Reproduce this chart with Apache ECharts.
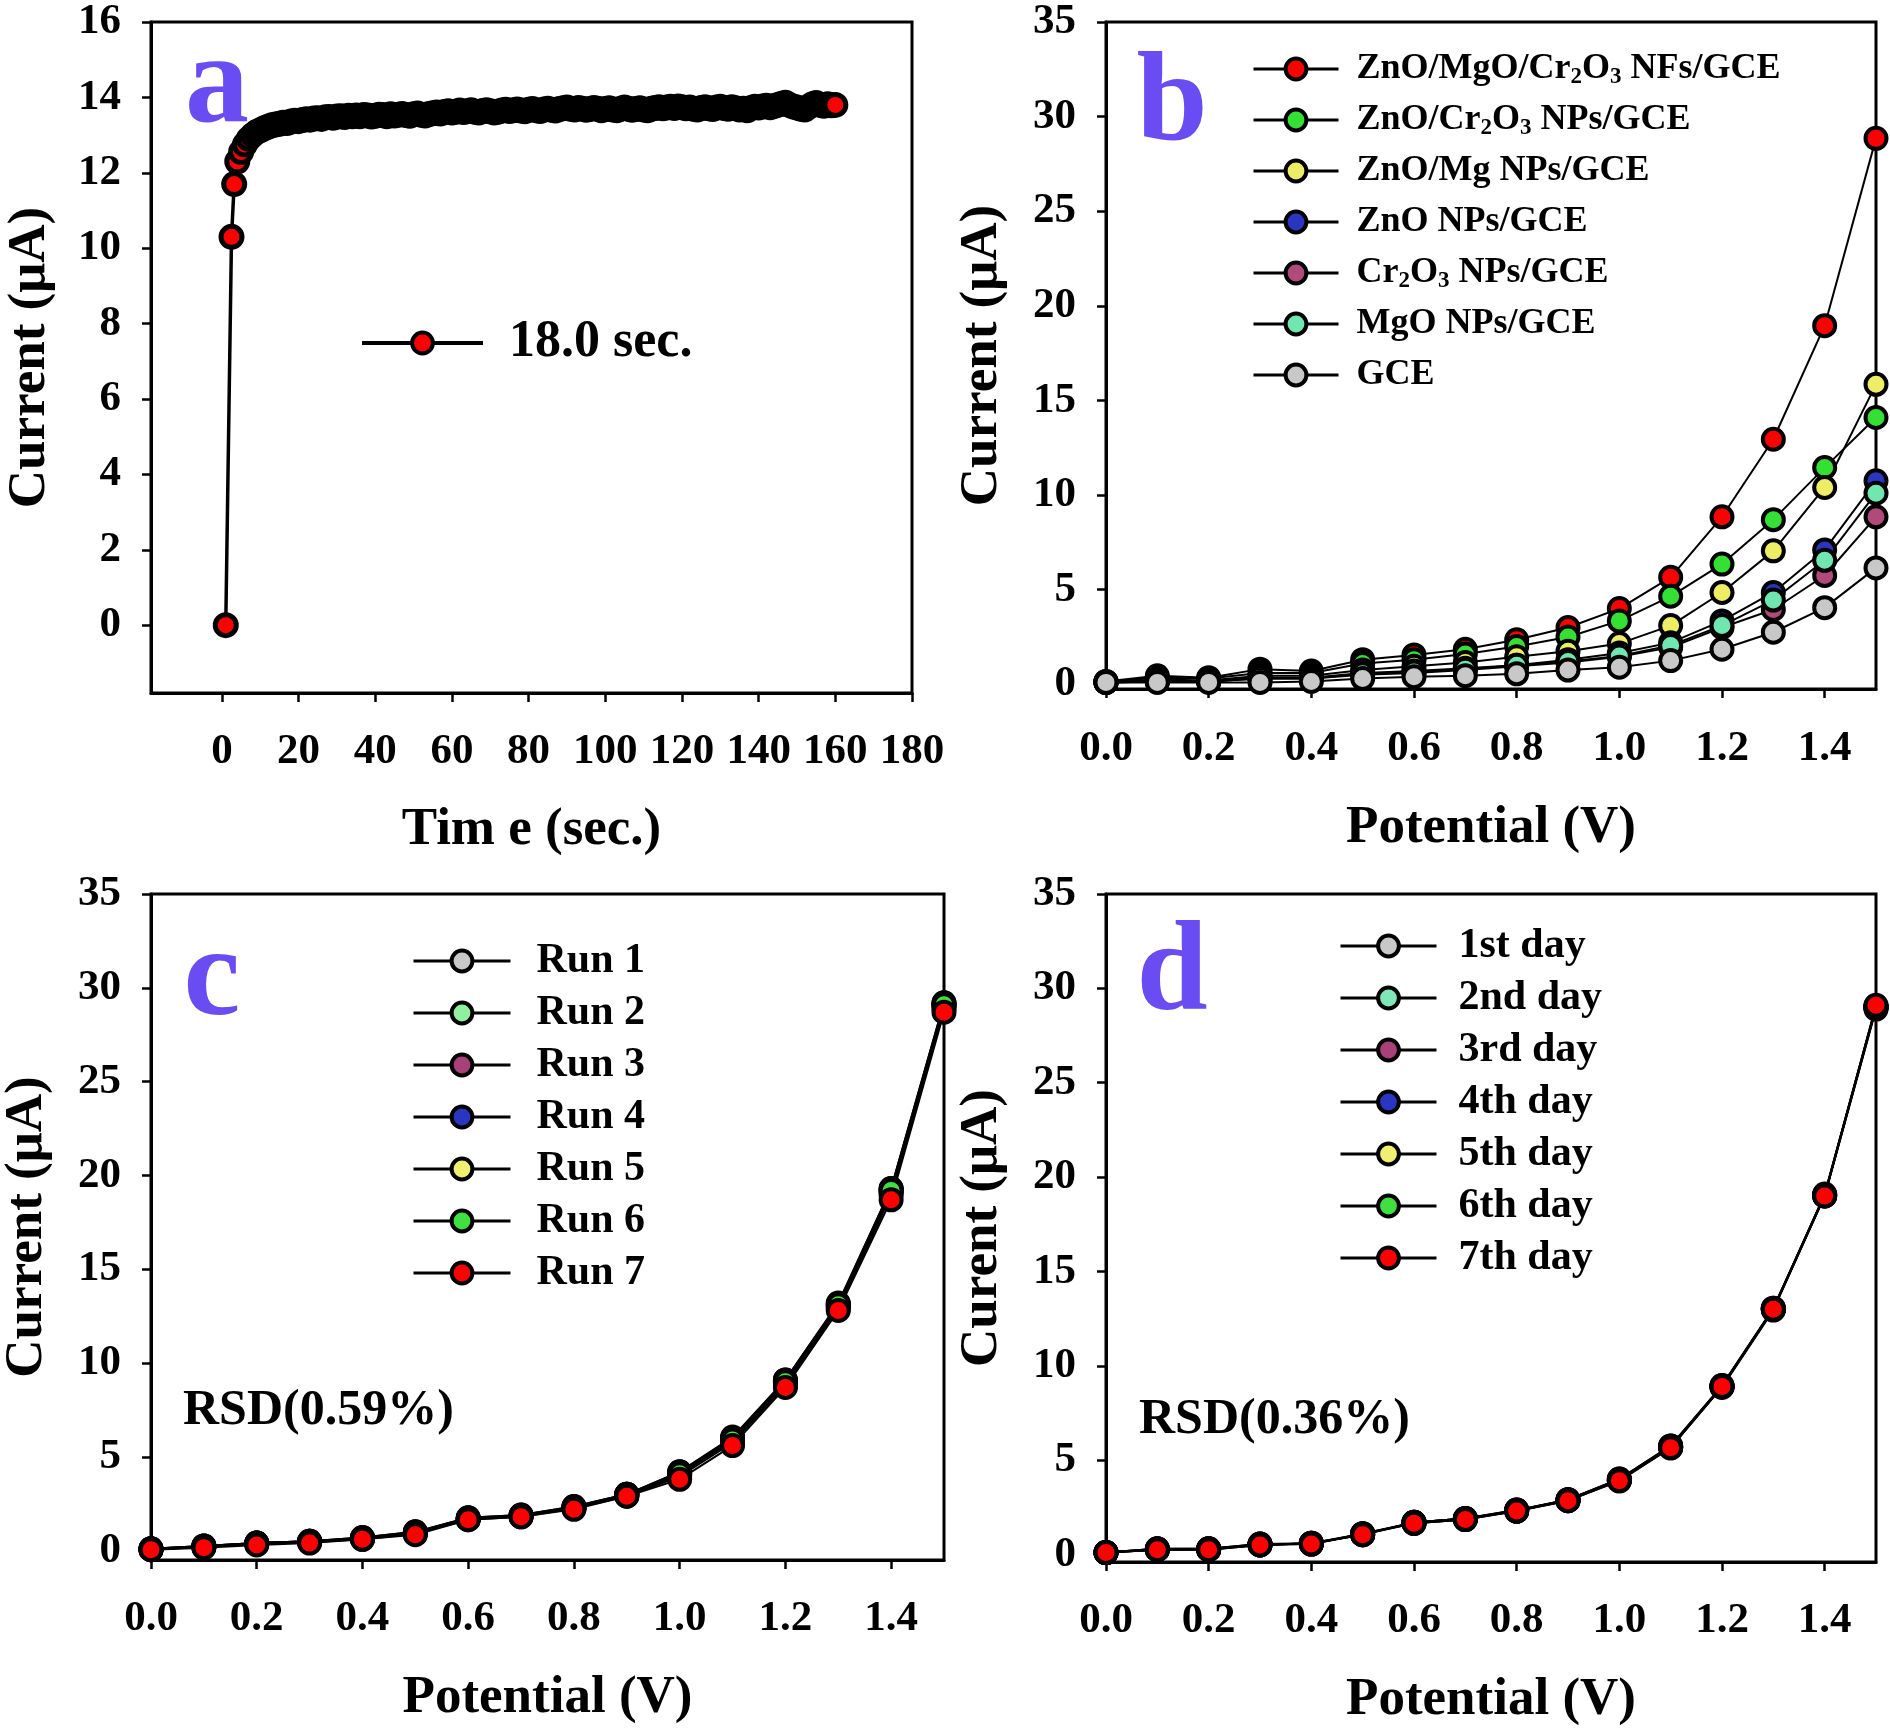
<!DOCTYPE html>
<html>
<head>
<meta charset="utf-8">
<script src="https://cdn.jsdelivr.net/npm/echarts@6/dist/echarts.min.js"></script>
<style>
html, body { margin: 0; padding: 0; background: #fff; }
#main { width: 1890px; height: 1728px; }
</style>
</head>
<body>
<div id="main"></div>
<script>
// panel a : current vs time (1 s sampling after the first three points)
var timeA = [1, 2.5, 3.2,
	4, 5, 6, 7, 8, 9, 10, 11, 12, 13, 14, 15, 16, 17, 18, 19, 20,
	21, 22, 23, 24, 25, 26, 27, 28, 29, 30, 31, 32, 33, 34, 35, 36, 37, 38, 39, 40,
	41, 42, 43, 44, 45, 46, 47, 48, 49, 50, 51, 52, 53, 54, 55, 56, 57, 58, 59, 60,
	61, 62, 63, 64, 65, 66, 67, 68, 69, 70, 71, 72, 73, 74, 75, 76, 77, 78, 79, 80,
	81, 82, 83, 84, 85, 86, 87, 88, 89, 90, 91, 92, 93, 94, 95, 96, 97, 98, 99, 100,
	101, 102, 103, 104, 105, 106, 107, 108, 109, 110, 111, 112, 113, 114, 115, 116, 117, 118, 119, 120,
	121, 122, 123, 124, 125, 126, 127, 128, 129, 130, 131, 132, 133, 134, 135, 136, 137, 138, 139, 140,
	141, 142, 143, 144, 145, 146, 147, 148, 149, 150, 151, 152, 153, 154, 155, 156, 157, 158, 159, 160];
var currentA = [0, 10.3, 11.7,
	12.3, 12.55, 12.75, 12.9, 13.0, 13.08, 13.13, 13.18, 13.22, 13.26, 13.28, 13.3, 13.33, 13.32, 13.36, 13.38, 13.37,
	13.4, 13.42, 13.41, 13.44, 13.45, 13.43, 13.47, 13.48, 13.46, 13.49, 13.5, 13.48, 13.51, 13.5, 13.52, 13.5, 13.53, 13.52, 13.49, 13.51,
	13.54, 13.53, 13.5, 13.55, 13.52, 13.54, 13.56, 13.53, 13.51, 13.55, 13.57, 13.54, 13.52, 13.56, 13.58, 13.6, 13.57, 13.61, 13.63, 13.6,
	13.62, 13.65, 13.61, 13.63, 13.66, 13.62, 13.6, 13.64, 13.66, 13.63, 13.6, 13.62, 13.65, 13.67, 13.64, 13.66, 13.68, 13.65, 13.63, 13.67,
	13.69, 13.66, 13.64, 13.68, 13.7, 13.67, 13.65, 13.69, 13.71, 13.73, 13.7, 13.68, 13.72, 13.7, 13.67, 13.69, 13.72, 13.7, 13.66, 13.69,
	13.71, 13.68, 13.66, 13.7, 13.73, 13.7, 13.67, 13.69, 13.71, 13.68, 13.66, 13.7, 13.72, 13.74, 13.71, 13.73, 13.75, 13.72, 13.76, 13.74,
	13.71, 13.73, 13.7, 13.68, 13.72, 13.74, 13.71, 13.69, 13.73, 13.75, 13.72, 13.7, 13.74, 13.71, 13.68, 13.7, 13.66, 13.72, 13.75, 13.73,
	13.76, 13.78, 13.74, 13.77, 13.8, 13.83, 13.86, 13.8, 13.76, 13.73, 13.7, 13.68, 13.75, 13.82, 13.85, 13.8, 13.78, 13.82, 13.79, 13.8];
var nameA = '18.0 sec.';

// panels b, c, d : current vs potential
var potential = [0, 0.1, 0.2, 0.3, 0.4, 0.5, 0.6, 0.7, 0.8, 0.9, 1.0, 1.1, 1.2, 1.3, 1.4, 1.5];

var namesB = ['ZnO/MgO/Cr2O3 NFs/GCE', 'ZnO/Cr2O3 NPs/GCE', 'ZnO/Mg NPs/GCE', 'ZnO NPs/GCE', 'Cr2O3 NPs/GCE', 'MgO NPs/GCE', 'GCE'];
var colorsB = ['#ff0000', '#33e033', '#eeee66', '#2a35c0', '#b04a7a', '#70e6b0', '#c8c8c8'];
var znoMgoCr = [0.15, 0.45, 0.35, 0.8, 0.7, 1.3, 1.55, 1.85, 2.35, 3.0, 4.0, 5.65, 8.85, 12.95, 18.95, 28.85];
var znoCr = [0.15, 0.35, 0.3, 0.6, 0.6, 1.1, 1.3, 1.6, 2.0, 2.5, 3.35, 4.65, 6.35, 8.7, 11.45, 14.1];
var znoMg = [0.1, 0.25, 0.2, 0.45, 0.45, 0.75, 0.95, 1.15, 1.45, 1.75, 2.15, 3.1, 4.85, 7.05, 10.4, 15.85];
var zno = [0.1, 0.2, 0.15, 0.35, 0.35, 0.6, 0.7, 0.85, 1.0, 1.3, 1.65, 2.2, 3.35, 4.85, 7.1, 10.75];
var cr2o3 = [0.1, 0.15, 0.15, 0.3, 0.3, 0.5, 0.6, 0.75, 0.95, 1.15, 1.45, 1.95, 3.0, 3.95, 5.75, 8.85];
var mgo = [0.1, 0.15, 0.15, 0.3, 0.3, 0.55, 0.65, 0.8, 1.0, 1.2, 1.5, 2.05, 3.1, 4.45, 6.55, 10.1];
var gce = [0.1, 0.1, 0.1, 0.1, 0.15, 0.3, 0.4, 0.45, 0.55, 0.75, 0.9, 1.25, 1.85, 2.75, 4.05, 6.15];
var valuesB = [znoMgoCr, znoCr, znoMg, zno, cr2o3, mgo, gce];

var namesC = ['Run 1', 'Run 2', 'Run 3', 'Run 4', 'Run 5', 'Run 6', 'Run 7'];
var colorsC = ['#c8c8c8', '#90f0a0', '#a8407a', '#2a35c0', '#f0f070', '#40e040', '#ff0000'];
var run1 = [0.1, 0.25, 0.4, 0.5, 0.7, 1.0, 1.75, 1.9, 2.35, 3.0, 4.2, 6.0, 9.1, 13.15, 19.3, 29.2];
var run2 = [0.1, 0.25, 0.4, 0.5, 0.65, 0.95, 1.7, 1.85, 2.3, 3.0, 4.1, 5.9, 9.0, 13.05, 19.2, 29.1];
var run3 = [0.05, 0.2, 0.35, 0.45, 0.65, 0.95, 1.7, 1.85, 2.3, 2.95, 4.05, 5.85, 8.95, 13.0, 19.1, 29.0];
var run4 = [0.1, 0.25, 0.4, 0.5, 0.7, 1.0, 1.75, 1.9, 2.35, 3.0, 4.2, 6.05, 9.1, 13.2, 19.3, 29.2];
var run5 = [0.05, 0.2, 0.35, 0.45, 0.6, 0.9, 1.65, 1.8, 2.25, 2.9, 3.95, 5.75, 8.8, 12.9, 18.95, 28.9];
var run6 = [0.1, 0.2, 0.4, 0.5, 0.65, 0.95, 1.7, 1.85, 2.3, 3.0, 4.1, 5.9, 9.0, 13.1, 19.2, 29.1];
var run7 = [0.05, 0.15, 0.3, 0.4, 0.6, 0.85, 1.65, 1.8, 2.2, 2.9, 3.8, 5.6, 8.7, 12.8, 18.7, 28.7];
var valuesC = [run1, run2, run3, run4, run5, run6, run7];

var namesD = ['1st day', '2nd day', '3rd day', '4th day', '5th day', '6th day', '7th day'];
var colorsD = ['#c8c8c8', '#80e8b8', '#a8407a', '#2a35c0', '#f0f070', '#40e040', '#ff0000'];
var day1 = [0.1, 0.3, 0.3, 0.55, 0.6, 1.1, 1.7, 1.9, 2.35, 2.9, 4.0, 5.75, 8.95, 13.05, 19.05, 29.0];
var day2 = [0.1, 0.25, 0.3, 0.5, 0.6, 1.05, 1.7, 1.9, 2.3, 2.9, 3.95, 5.7, 8.9, 13.0, 19.1, 29.05];
var day3 = [0.1, 0.3, 0.25, 0.55, 0.55, 1.1, 1.65, 1.85, 2.35, 2.85, 3.95, 5.7, 8.95, 13.05, 19.0, 28.95];
var day4 = [0.1, 0.25, 0.3, 0.5, 0.6, 1.05, 1.7, 1.9, 2.3, 2.9, 4.0, 5.75, 8.9, 13.0, 19.05, 29.0];
var day5 = [0.1, 0.3, 0.3, 0.55, 0.55, 1.1, 1.65, 1.85, 2.3, 2.85, 3.9, 5.7, 8.85, 12.95, 19.0, 28.9];
var day6 = [0.1, 0.25, 0.25, 0.5, 0.6, 1.05, 1.7, 1.9, 2.35, 2.9, 3.95, 5.65, 8.9, 13.0, 19.05, 29.05];
var day7 = [0.1, 0.25, 0.25, 0.5, 0.55, 1.05, 1.65, 1.85, 2.3, 2.85, 3.9, 5.65, 8.9, 13.0, 19.0, 29.1];
var valuesD = [day1, day2, day3, day4, day5, day6, day7];

// tick labels
var ticksTime = [0, 20, 40, 60, 80, 100, 120, 140, 160, 180];
var ticksCurrentA = [0, 2, 4, 6, 8, 10, 12, 14, 16];
var ticksPotential = [0, 0.2, 0.4, 0.6, 0.8, 1.0, 1.2, 1.4];
var ticksCurrent = [0, 5, 10, 15, 20, 25, 30, 35];

var serif = '"Liberation Serif", "Times New Roman", serif';
var letterColor = '#6a4df2';

function pairs(xs, ys) {
	var out = [];
	for (var i = 0; i < xs.length; i++) {
		out.push([xs[i], ys[i]]);
	}
	return out;
}

function axis(gridIndex, min, max, ticks, name, nameGap, margin, fmt) {
	return {
		type: 'value',
		gridIndex: gridIndex,
		min: min,
		max: max,
		name: name,
		nameLocation: 'middle',
		nameGap: nameGap,
		nameTextStyle: { fontFamily: serif, fontWeight: 'bold', fontSize: 53, color: '#000' },
		axisLine: { show: true, onZero: false, lineStyle: { color: '#000', width: 3 } },
		axisTick: { show: true, inside: false, length: 9, customValues: ticks, lineStyle: { color: '#000', width: 2.5 } },
		axisLabel: {
			customValues: ticks, margin: margin, color: '#000',
			fontFamily: serif, fontWeight: 'bold', fontSize: 43,
			formatter: fmt
		},
		splitLine: { show: false }
	};
}

function fixed1(v) { return v.toFixed(1); }
function plain(v) { return String(v); }

function legend(names, left, top, itemWidth, textGap, fontSize, itemGap) {
	return {
		orient: 'vertical',
		left: left,
		top: top,
		itemWidth: itemWidth,
		itemHeight: 26,
		itemGap: itemGap,
		selectedMode: false,
		data: names,
		itemStyle: { borderColor: '#000', borderWidth: 4 },
		lineStyle: { color: '#000', width: 3 },
		formatter: function (n) {
			return n.replace(/([A-Za-z])([23])/g, '$1{s|$2}');
		},
		textStyle: {
			fontFamily: serif, fontWeight: 'bold', fontSize: fontSize, color: '#000',
			lineHeight: 40, padding: [0, 0, 0, textGap - 5],
			rich: {
				s: { fontFamily: serif, fontWeight: 'bold', fontSize: 23, color: '#000', verticalAlign: 'bottom', lineHeight: 28 }
			}
		}
	};
}

function lineSeries(name, color, data, gi, size, lw, bw) {
	return {
		type: 'line',
		name: name,
		xAxisIndex: gi,
		yAxisIndex: gi,
		data: data,
		clip: false,
		symbol: 'circle',
		symbolSize: size,
		lineStyle: { color: '#000', width: lw },
		itemStyle: { color: color, borderColor: '#000', borderWidth: bw },
		emphasis: { disabled: true }
	};
}

var series = [];
series.push(lineSeries(nameA, '#ff0000', pairs(timeA, currentA), 0, 21, 3.5, 5));
for (var i = 0; i < namesB.length; i++) {
	series.push(lineSeries(namesB[i], colorsB[i], pairs(potential, valuesB[i]), 1, 21, 2, 4));
}
for (var j = 0; j < namesC.length; j++) {
	series.push(lineSeries(namesC[j], colorsC[j], pairs(potential, valuesC[j]), 2, 21, 2, 4));
}
for (var k = 0; k < namesD.length; k++) {
	series.push(lineSeries(namesD[k], colorsD[k], pairs(potential, valuesD[k]), 3, 21, 2, 4));
}

function label(text, x, y, size, color, align) {
	return {
		type: 'text', x: x, y: y, z: 100,
		style: {
			text: text, fill: color, align: align, verticalAlign: 'middle',
			font: 'bold ' + size + 'px ' + serif
		}
	};
}

var legendA = legend([nameA], 355, 310, 121, 26, 52, 0);
legendA.textStyle.lineHeight = 56;
legendA.lineStyle.width = 4;

var option = {
	animation: false,
	backgroundColor: '#fff',
	grid: [
		{ left: 151, top: 22, width: 761, height: 671 },
		{ left: 1106, top: 22, width: 770, height: 667 },
		{ left: 151, top: 894, width: 793, height: 666 },
		{ left: 1106, top: 894, width: 770, height: 669 }
	].map(function (g) {
		g.show = true; g.borderColor = '#000'; g.borderWidth = 3; g.backgroundColor = 'transparent';
		return g;
	}),
	xAxis: [
		axis(0, -18.5, 180, ticksTime, 'Tim e (sec.)', 111, 37, plain),
		axis(1, 0, 1.5, ticksPotential, 'Potential (V)', 113, 38, fixed1),
		axis(2, 0, 1.5, ticksPotential, 'Potential (V)', 112, 37, fixed1),
		axis(3, 0, 1.5, ticksPotential, 'Potential (V)', 112, 37, fixed1)
	],
	yAxis: [
		axis(0, -1.8, 16, ticksCurrentA, 'Current (μA)', 94, 30, plain),
		axis(1, -0.25, 35, ticksCurrent, 'Current (μA)', 97, 30, plain),
		axis(2, -0.5, 35, ticksCurrent, 'Current (μA)', 97, 30, plain),
		axis(3, -0.4, 35, ticksCurrent, 'Curent (μA)', 97, 30, plain)
	],
	legend: [
		legendA,
		legend(namesB, 1247, 44, 85, 18, 36, 11),
		legend(namesC, 407, 935, 97, 26, 42, 10),
		legend(namesD, 1334, 920, 96, 22, 42, 10)
	],
	graphic: [
		label('a', 217, 88, 128, letterColor, 'center'),
		label('b', 1172, 106, 128, letterColor, 'center'),
		label('c', 212, 981, 128, letterColor, 'center'),
		label('d', 1172, 975, 128, letterColor, 'center'),
		label('RSD(0.59%)', 183, 1411, 50, '#000', 'left'),
		label('RSD(0.36%)', 1139, 1420, 50, '#000', 'left')
	],
	series: series
};

var chart = echarts.init(document.getElementById('main'));
chart.setOption(option);
</script>
</body>
</html>
